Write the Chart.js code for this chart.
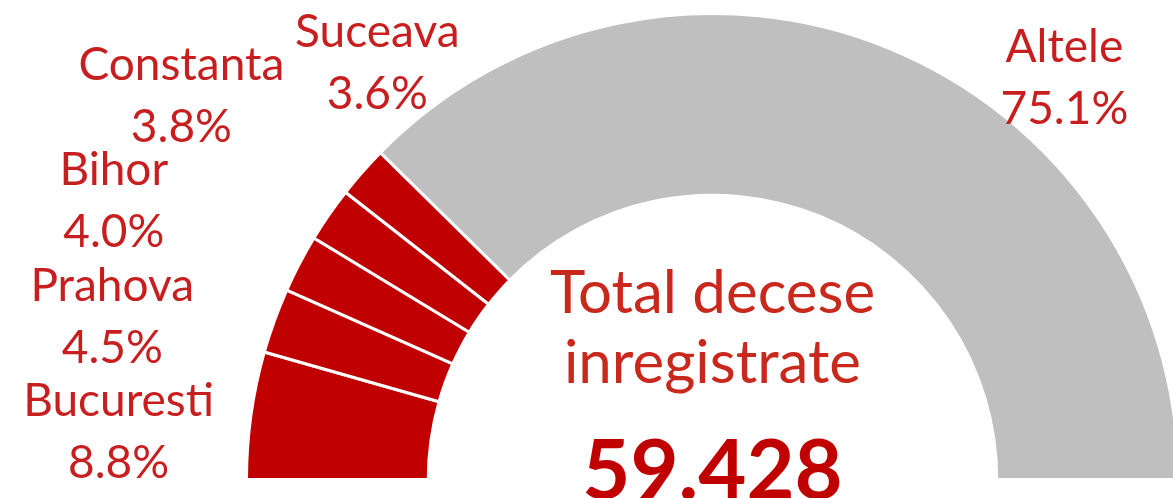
<!DOCTYPE html>
<html>
<head>
<meta charset="utf-8">
<script src="https://cdn.jsdelivr.net/npm/chart.js@4"></script>
<style>
  html, body { margin: 0; padding: 0; background: #fff; overflow: hidden; }
  canvas { display: block; }
</style>
</head>
<body>
<canvas id="decese" width="1180" height="498"></canvas>
<script>
const judete = ['Bucuresti', 'Prahova', 'Bihor', 'Constanta', 'Suceava', 'Altele'];
const procente = [8.8, 4.5, 4.0, 3.8, 3.6, 75.1];
const culori = ['#C00000', '#C00000', '#C00000', '#C00000', '#C00000', '#BFBFBF'];
const totalDecese = '59.428';
const titluCentru = ['Total decese', 'inregistrate'];

// how far each label is pushed from its slice (x, y)
const mutare = [[-69, 26], [-102, 18], [-129, -33], [-95, -82], [63, -67], [151, 89]];

const eticheteFelii = {
    id: 'eticheteFelii',
    afterDraw(chart) {
        const c = chart.ctx;
        const arcs = chart.getDatasetMeta(0).data;
        c.save();
        c.fillStyle = '#C71F1F';
        c.font = '46px Lato';
        c.textAlign = 'center';
        c.textBaseline = 'middle';
        arcs.forEach((arc, i) => {
            const mid = (arc.startAngle + arc.endAngle) / 2;
            const r = arc.outerRadius + 64;
            const x = arc.x + Math.cos(mid) * r + mutare[i][0];
            const y = arc.y + Math.sin(mid) * r + mutare[i][1];
            c.fillText(judete[i], x, y - 31);
            c.fillText(procente[i].toFixed(1) + '%', x, y + 31);
        });

        // text in the middle
        const a = arcs[0];
        c.textBaseline = 'alphabetic';
        c.fillStyle = '#C9281C';
        c.font = '60px Lato';
        c.fillText(titluCentru[0], a.x, a.y - 167);
        c.fillText(titluCentru[1], a.x, a.y - 97);
        c.fillStyle = '#C00000';
        c.font = 'bold 83px Lato';
        c.fillText(totalDecese, a.x, a.y + 19);
        c.restore();
    }
};

new Chart(document.getElementById('decese'), {
    type: 'doughnut',
    data: {
        labels: judete,
        datasets: [{
            data: procente,
            backgroundColor: culori,
            borderColor: '#FFFFFF',
            borderWidth: 3
        }]
    },
    options: {
        responsive: false,
        animation: false,
        rotation: -90,
        circumference: 180,
        cutout: '61%',
        layout: { padding: { left: 245, right: 0, top: 12, bottom: 17 } },
        plugins: {
            legend: { display: false },
            tooltip: { enabled: false }
        }
    },
    plugins: [eticheteFelii]
});
</script>
</body>
</html>
